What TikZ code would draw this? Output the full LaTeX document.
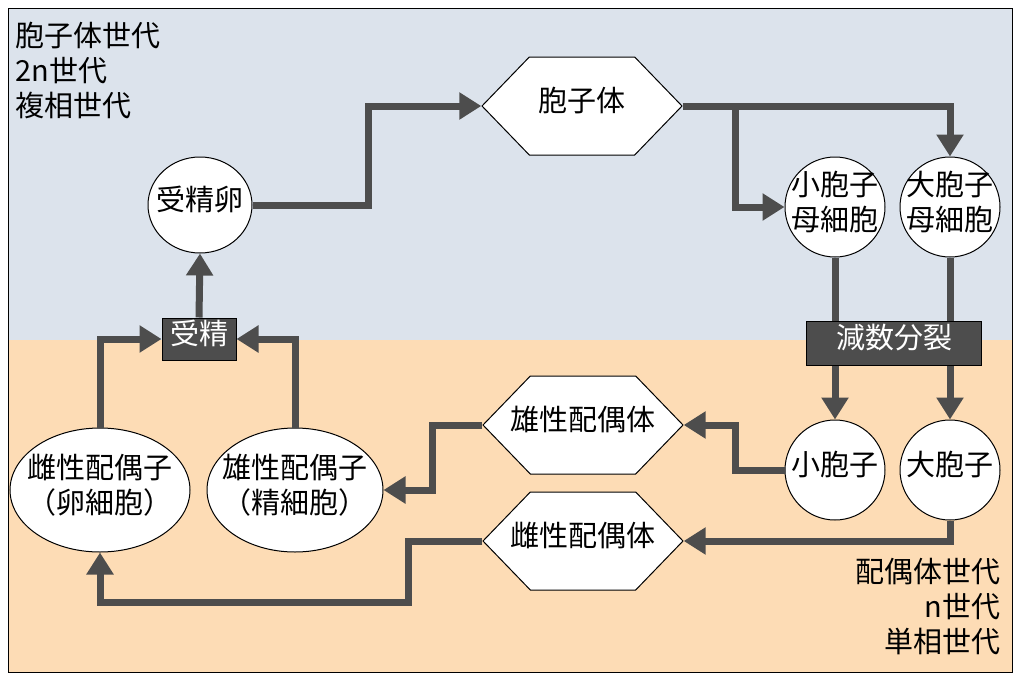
\documentclass[tikz,border=0pt]{standalone}
\usepackage{fontspec}
\setmainfont{Noto Sans CJK JP}
\usetikzlibrary{shapes.geometric,shapes.symbols,arrows.meta}
\definecolor{bgblue}{HTML}{DCE3EC}
\definecolor{bgor}{HTML}{FDDCB5}
\definecolor{ln}{HTML}{4D4D4D}
\newcommand{\zt}[1]{\raisebox{-0.35em}{\smash{\makebox[0pt]{\begin{tabular}{@{}c@{}}#1\end{tabular}}}}}
\begin{document}
\begin{tikzpicture}[x=1pt,y=-1pt,
  every node/.style={font=\fontsize{29}{35}\selectfont},
  ell/.style={ellipse,draw=black,fill=white,line width=1pt,inner sep=0pt,align=center},
  hex/.style={signal,signal to=west and east,signal pointer angle=92,draw=black,fill=white,line width=1pt,minimum width=200pt,minimum height=98pt,inner sep=0pt},
  box/.style={draw=black,fill=ln,text=white,line width=1pt,inner sep=0pt},
  con/.style={draw=ln,line width=7pt,-{Triangle[length=22pt,width=26pt]}}]
\useasboundingbox (0,0) rectangle (1020,680);
\fill[bgblue] (8,8) rectangle (1012,340);
\fill[bgor] (8,340) rectangle (1012,672);
\draw[line width=1pt] (8,8) rectangle (1012,672);
\node[anchor=west,align=left] (t1) at (12,70) {胞子体世代\\2n世代\\複相世代};
\node[anchor=east,align=right] (t2) at (1004,607) {配偶体世代\\n世代\\単相世代};
\node[hex] (sp) at (582,106) {\zt{胞子体}};
\node[ell,minimum width=104pt,minimum height=96pt] (zy) at (200,205) {\zt{受精卵}};
\node[ell,minimum width=100pt,minimum height=100pt] (mic) at (835,207) {\zt{小胞子\\母細胞}};
\node[ell,minimum width=100pt,minimum height=100pt] (mac) at (950,207) {\zt{大胞子\\母細胞}};
\node[ell,minimum width=100pt,minimum height=100pt] (ms) at (835,470) {\zt{小胞子}};
\node[ell,minimum width=100pt,minimum height=100pt] (fs) at (950,470) {\zt{大胞子}};
\node[hex] (mg) at (583,425) {\zt{雄性配偶体}};
\node[hex] (fg) at (583,541) {\zt{雌性配偶体}};
\node[ell,minimum width=180pt,minimum height=124pt] (egg) at (100,490) {\zt{雌性配偶子\\（卵細胞）}};
\node[ell,minimum width=176pt,minimum height=124pt] (sperm) at (295,490) {\zt{雄性配偶子\\（精細胞）}};
\node[box,minimum width=74pt,minimum height=42pt] (fert) at (199,339) {\zt{受精}};
\path[con] (zy.east) -- (368,205) -- (368,106) -- (sp.west);
\path[con] (sp.east) -- (950,106) -- (mac.north);
\path[con] (735,106) -- (735,207) -- (mic.west);
\path[con] (mic.south) -- (ms.north);
\path[con] (mac.south) -- (fs.north);
\path[con] (ms.west) -- (735,470) -- (735,425) -- (mg.east);
\path[con] (mg.west) -- (432,425) -- (432,490) -- (sperm.east);
\path[con] (fs.south) -- (950,541) -- (fg.east);
\path[con] (fg.west) -- (408,541) -- (408,602) -- (100,602) -- (egg.south);
\path[con] (egg.north) -- (100,339) -- (fert.west);
\path[con] (sperm.north) -- (295,339) -- (fert.east);
\path[con] (fert.north) -- (zy.south);
\node[box,minimum width=175pt,minimum height=44pt] (mei) at (894,343) {\zt{減数分裂}};
\end{tikzpicture}
\end{document}
